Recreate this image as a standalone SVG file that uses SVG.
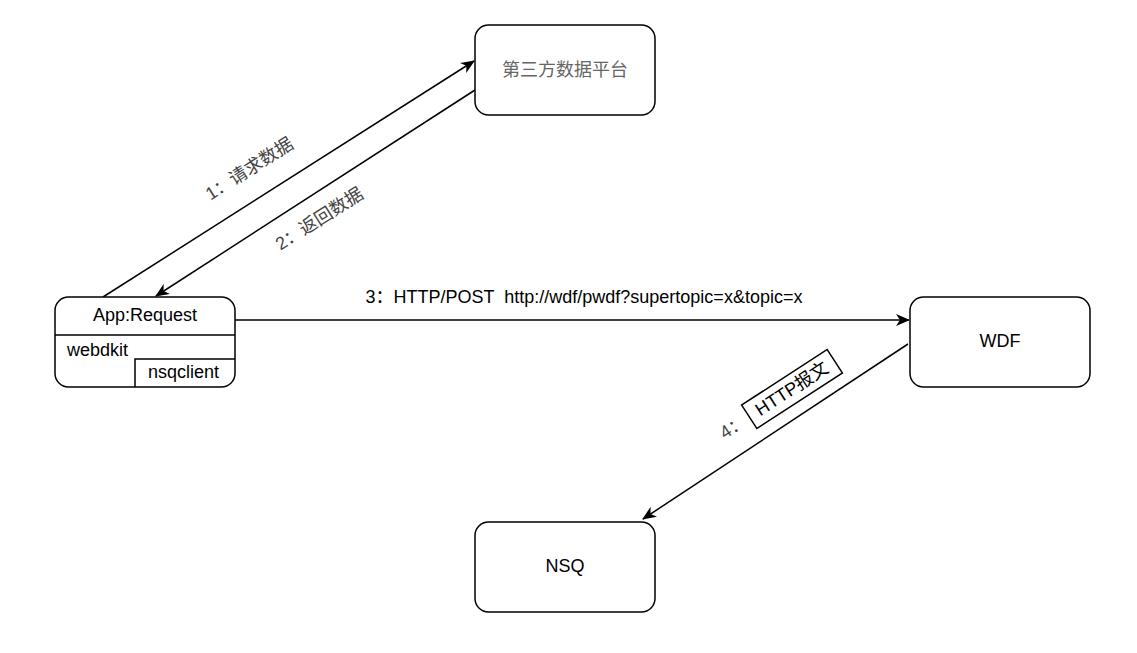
<svg xmlns="http://www.w3.org/2000/svg" width="1137" height="653" viewBox="0 0 1137 653">
<style>
.box{fill:#fff;stroke:#000;stroke-width:1.5}
.ln{fill:none;stroke:#000;stroke-width:1.5}
.t{font-family:"Liberation Sans","Noto Sans CJK SC",sans-serif;font-size:18px;fill:#000;white-space:pre}
.g{fill:#444}
</style>
<defs>
<marker id="ah" viewBox="0 0 14 12" refX="13" refY="6" markerWidth="14" markerHeight="12" markerUnits="userSpaceOnUse" orient="auto">
<path d="M0,0 L14,6 L0,12 L4,6 Z" fill="#000"/>
</marker>
</defs>
<rect width="1137" height="653" fill="#fff"/>
<g id="connectors">
<path class="ln" d="M103,297 L474,61" marker-end="url(#ah)"/>
<path class="ln" d="M475,90 L156,296" marker-end="url(#ah)"/>
<path class="ln" d="M235,320 L909,320" marker-end="url(#ah)"/>
<path class="ln" d="M908,344 L643,519" marker-end="url(#ah)"/>
<text class="t g" transform="translate(250,170) rotate(-32.5)" text-anchor="middle" dominant-baseline="middle">1：请求数据</text>
<text class="t g" transform="translate(320,220) rotate(-32.5)" text-anchor="middle" dominant-baseline="middle">2：返回数据</text>
<text class="t" x="584" y="298" text-anchor="middle" dominant-baseline="middle" xml:space="preserve">3：HTTP/POST  http://wdf/pwdf?supertopic=x&amp;topic=x</text>
<g transform="translate(792,389) rotate(-33)">
<rect x="-51" y="-14" width="102" height="28" fill="#fff" stroke="#000" stroke-width="1.5"/>
<text class="t" x="0" y="1" text-anchor="middle" dominant-baseline="middle">HTTP报文</text>
</g>
<text class="t g" transform="translate(734,428) rotate(-33)" text-anchor="middle" dominant-baseline="middle">4：</text>
</g>
<g id="platform">
<rect class="box" x="475" y="25" width="180" height="90" rx="13.5"/>
<text class="t" x="565" y="71" text-anchor="middle" dominant-baseline="middle" style="fill:#666">第三方数据平台</text>
</g>
<g id="app">
<rect class="box" x="55" y="297" width="180" height="90" rx="13.5"/>
<line class="ln" x1="55" y1="335" x2="235" y2="335"/>
<path class="ln" d="M135,387 L135,359 L235,359"/>
<text class="t" x="145" y="316" text-anchor="middle" dominant-baseline="middle">App:Request</text>
<text class="t" x="67" y="351" dominant-baseline="middle">webdkit</text>
<text class="t" x="148" y="373" dominant-baseline="middle">nsqclient</text>
</g>
<g id="wdf">
<rect class="box" x="910" y="297" width="180" height="90" rx="13.5"/>
<text class="t" x="1000" y="342" text-anchor="middle" dominant-baseline="middle">WDF</text>
</g>
<g id="nsq">
<rect class="box" x="475" y="522" width="180" height="90" rx="13.5"/>
<text class="t" x="565" y="567" text-anchor="middle" dominant-baseline="middle">NSQ</text>
</g>
</svg>
